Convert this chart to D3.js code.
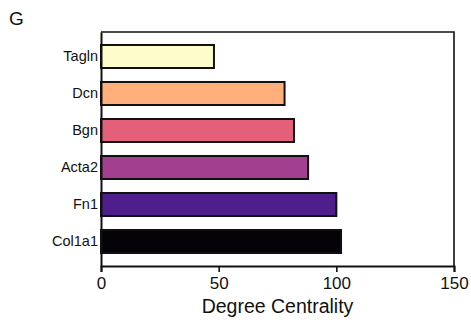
<!DOCTYPE html>
<html>
<head>
<meta charset="utf-8">
<script src="https://cdn.jsdelivr.net/npm/d3@7"></script>
<style>
  body { margin: 0; background: #fff; }
  text { font-family: "Liberation Sans", Arial, sans-serif; fill: #111; }
</style>
</head>
<body>
<div id="chart"></div>
<script>
// gene names, top to bottom
const genes = ["Tagln", "Dcn", "Bgn", "Acta2", "Fn1", "Col1a1"];
const centrality = [48, 78, 82, 88, 100, 102];
const barColors = ["#fefccb", "#feaf7c", "#e4607a", "#a23f8f", "#4e1e8c", "#050308"];
const xTicks = [0, 50, 100, 150];

const width = 471, height = 322;
const margin = { top: 32, right: 17, bottom: 56, left: 101 };

const svg = d3.select("#chart")
  .append("svg")
  .attr("width", width)
  .attr("height", height);

const x = d3.scaleLinear()
  .domain([0, 150])
  .range([margin.left, width - margin.right]);

const y = d3.scaleBand()
  .domain(genes)
  .range([margin.top, height - margin.bottom])
  .paddingInner(0.378)
  .paddingOuter(0.351);

// panel letter
svg.append("text")
  .attr("x", 9)
  .attr("y", 25)
  .style("font-size", "19px")
  .text("G");

// frame (top + right)
svg.append("path")
  .attr("d", `M${x(0)},${margin.top}H${x(150)}V${height - margin.bottom}`)
  .attr("fill", "none")
  .attr("stroke", "#111")
  .attr("stroke-width", 1.6);

// bars
svg.selectAll(".bar")
  .data(genes)
  .enter()
  .append("rect")
  .attr("class", "bar")
  .attr("x", x(0))
  .attr("y", d => y(d))
  .attr("width", (d, i) => x(centrality[i]) - x(0))
  .attr("height", y.bandwidth())
  .attr("fill", (d, i) => barColors[i])
  .attr("stroke", "#111")
  .attr("stroke-width", 2);

// x axis
const xAxis = svg.append("g")
  .attr("transform", `translate(0,${height - margin.bottom})`)
  .call(d3.axisBottom(x).tickValues(xTicks).tickSize(6).tickPadding(5));
xAxis.select(".domain").attr("stroke", "#111").attr("stroke-width", 2);
xAxis.selectAll(".tick line").attr("stroke", "#111").attr("stroke-width", 1.6);
xAxis.selectAll("text").style("font-size", "17px").attr("fill", "#111");

// y axis (no ticks)
const yAxis = svg.append("g")
  .attr("transform", `translate(${margin.left},0)`)
  .call(d3.axisLeft(y).tickSize(0).tickPadding(3));
yAxis.select(".domain").attr("stroke", "#111").attr("stroke-width", 2);
yAxis.selectAll("text").style("font-size", "14.5px").attr("fill", "#111");

// axis title
svg.append("text")
  .attr("x", (x(0) + x(150)) / 2)
  .attr("y", 313)
  .attr("text-anchor", "middle")
  .style("font-size", "19.5px")
  .text("Degree Centrality");
</script>
</body>
</html>
